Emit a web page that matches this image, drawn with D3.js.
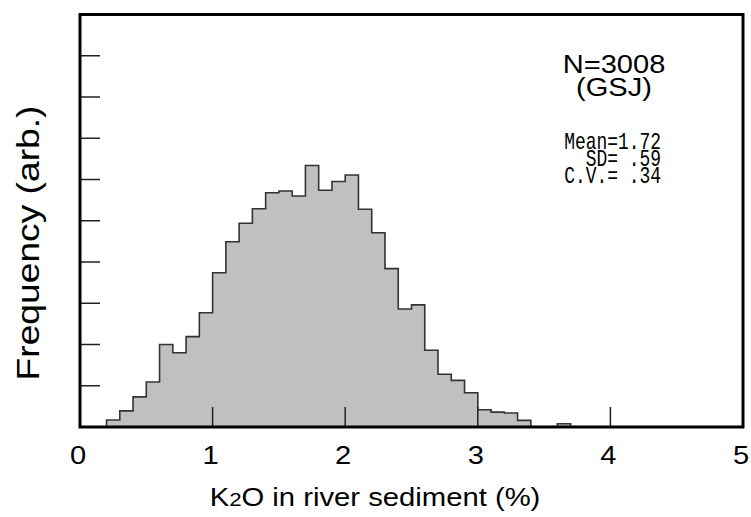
<!DOCTYPE html>
<html>
<head>
<meta charset="utf-8">
<script src="https://cdn.jsdelivr.net/npm/d3@7"></script>
<style>
  html, body { margin: 0; padding: 0; background: #fff; }
  svg { display: block; }
  text { white-space: pre; }
</style>
</head>
<body>
<svg id="chart" width="751" height="517"></svg>
<script>
// ---- data ----
const binLefts = [0.2,0.3,0.4,0.5,0.6,0.7,0.8,0.9,1.0,1.1,1.2,1.3,1.4,1.5,1.6,1.7,1.8,1.9,2.0,2.1,2.2,2.3,2.4,2.5,2.6,2.7,2.8,2.9,3.0,3.1,3.2,3.3,3.4,3.5,3.6];
const binWidth = 0.1;
const frequency = [0.17,0.39,0.73,1.09,2.00,1.80,2.19,2.77,3.74,4.49,4.94,5.29,5.68,5.72,5.60,6.34,5.74,5.95,6.11,5.28,4.71,3.84,2.86,2.96,1.86,1.28,1.13,0.83,0.42,0.36,0.34,0.16,0,0,0.08];
const xTicks = [0,1,2,3,4,5];
const yTicks = [1,2,3,4,5,6,7,8,9];
const xTitle = ["K", "2", "O in river sediment (%)"];
const yTitle = "Frequency (arb.)";
const headerLines = ["N=3008", "(GSJ)"];
const statLines = ["Mean=1.72", "SD= .59", "C.V.= .34"];

(function () {
// ---- layout ----
const svg = d3.select("#chart");
const pLeft = 80, pRight = 743, pTop = 14.5, pBottom = 427;
const x = d3.scaleLinear().domain([0, 5]).range([pLeft, pRight]);
const y = d3.scaleLinear().domain([0, 10]).range([pBottom, pTop]);
const sans = "Liberation Sans, Arial, sans-serif";

// histogram outline as one stepped polygon
const pts = [[binLefts[0], 0]];
binLefts.forEach((b, i) => {
  pts.push([b, frequency[i]]);
  pts.push([b + binWidth, frequency[i]]);
});
pts.push([binLefts[binLefts.length - 1] + binWidth, 0]);
const line = d3.line().x(d => x(d[0])).y(d => y(d[1]));
svg.append("path")
  .attr("d", line(pts) + "Z")
  .attr("fill", "#c0c0c0")
  .attr("stroke", "#333")
  .attr("stroke-width", 1.6)
  .attr("stroke-linejoin", "miter");

// inner ticks
svg.append("g").selectAll("line").data(yTicks).join("line")
  .attr("x1", pLeft).attr("x2", pLeft + 20)
  .attr("y1", d => y(d)).attr("y2", d => y(d))
  .attr("stroke", "#222").attr("stroke-width", 1.5);
svg.append("g").selectAll("line").data(xTicks.filter(d => d > 0 && d < 5)).join("line")
  .attr("x1", d => x(d)).attr("x2", d => x(d))
  .attr("y1", pBottom).attr("y2", pBottom - 20)
  .attr("stroke", "#222").attr("stroke-width", 1.5);

// frame
svg.append("rect")
  .attr("x", pLeft).attr("y", pTop)
  .attr("width", pRight - pLeft).attr("height", pBottom - pTop)
  .attr("fill", "none").attr("stroke", "#000").attr("stroke-width", 3);

// x tick labels (slightly wide glyphs, as in the reference)
svg.append("g").selectAll("g").data(xTicks).join("g")
  .attr("transform", d => `translate(${x(d) - 2}, 464) scale(1.12, 1)`)
  .append("text")
  .attr("text-anchor", "middle")
  .attr("font-family", sans)
  .attr("font-size", 26)
  .attr("fill", "#000")
  .text(d => d);

// x title
const xt = svg.append("g")
  .attr("transform", "translate(375, 506) scale(1.17, 1)")
  .append("text")
  .attr("text-anchor", "middle")
  .attr("font-family", sans)
  .attr("font-size", 25)
  .attr("fill", "#000");
xt.append("tspan").text(xTitle[0]);
xt.append("tspan").attr("font-size", 19).text(xTitle[1]);
xt.append("tspan").text(xTitle[2]);

// y title (glyphs elongated along the reading direction, as in the reference)
svg.append("text")
  .attr("transform", "translate(39, 243) rotate(-90) scale(1.2, 1)")
  .attr("text-anchor", "middle")
  .attr("font-family", sans)
  .attr("font-size", 31)
  .attr("fill", "#000")
  .text(yTitle);

// header annotation
svg.append("g").selectAll("g").data(headerLines).join("g")
  .attr("transform", (d, i) => `translate(614, ${73 + i * 23}) scale(1.14, 1)`)
  .append("text")
  .attr("text-anchor", "middle")
  .attr("font-family", sans)
  .attr("font-size", 25.5)
  .attr("fill", "#000")
  .text(d => d);

// statistics block (monospace, condensed)
statLines.forEach((s, i) => {
  svg.append("g")
    .attr("transform", `translate(661, ${148.5 + i * 17}) scale(0.78, 1)`)
    .append("text")
    .attr("x", 0).attr("y", 0)
    .attr("text-anchor", "end")
    .attr("font-family", "Liberation Mono, DejaVu Sans Mono, monospace")
    .attr("font-size", 23)
    .attr("fill", "#000")
    .text(s);
});
})();
</script>
</body>
</html>
